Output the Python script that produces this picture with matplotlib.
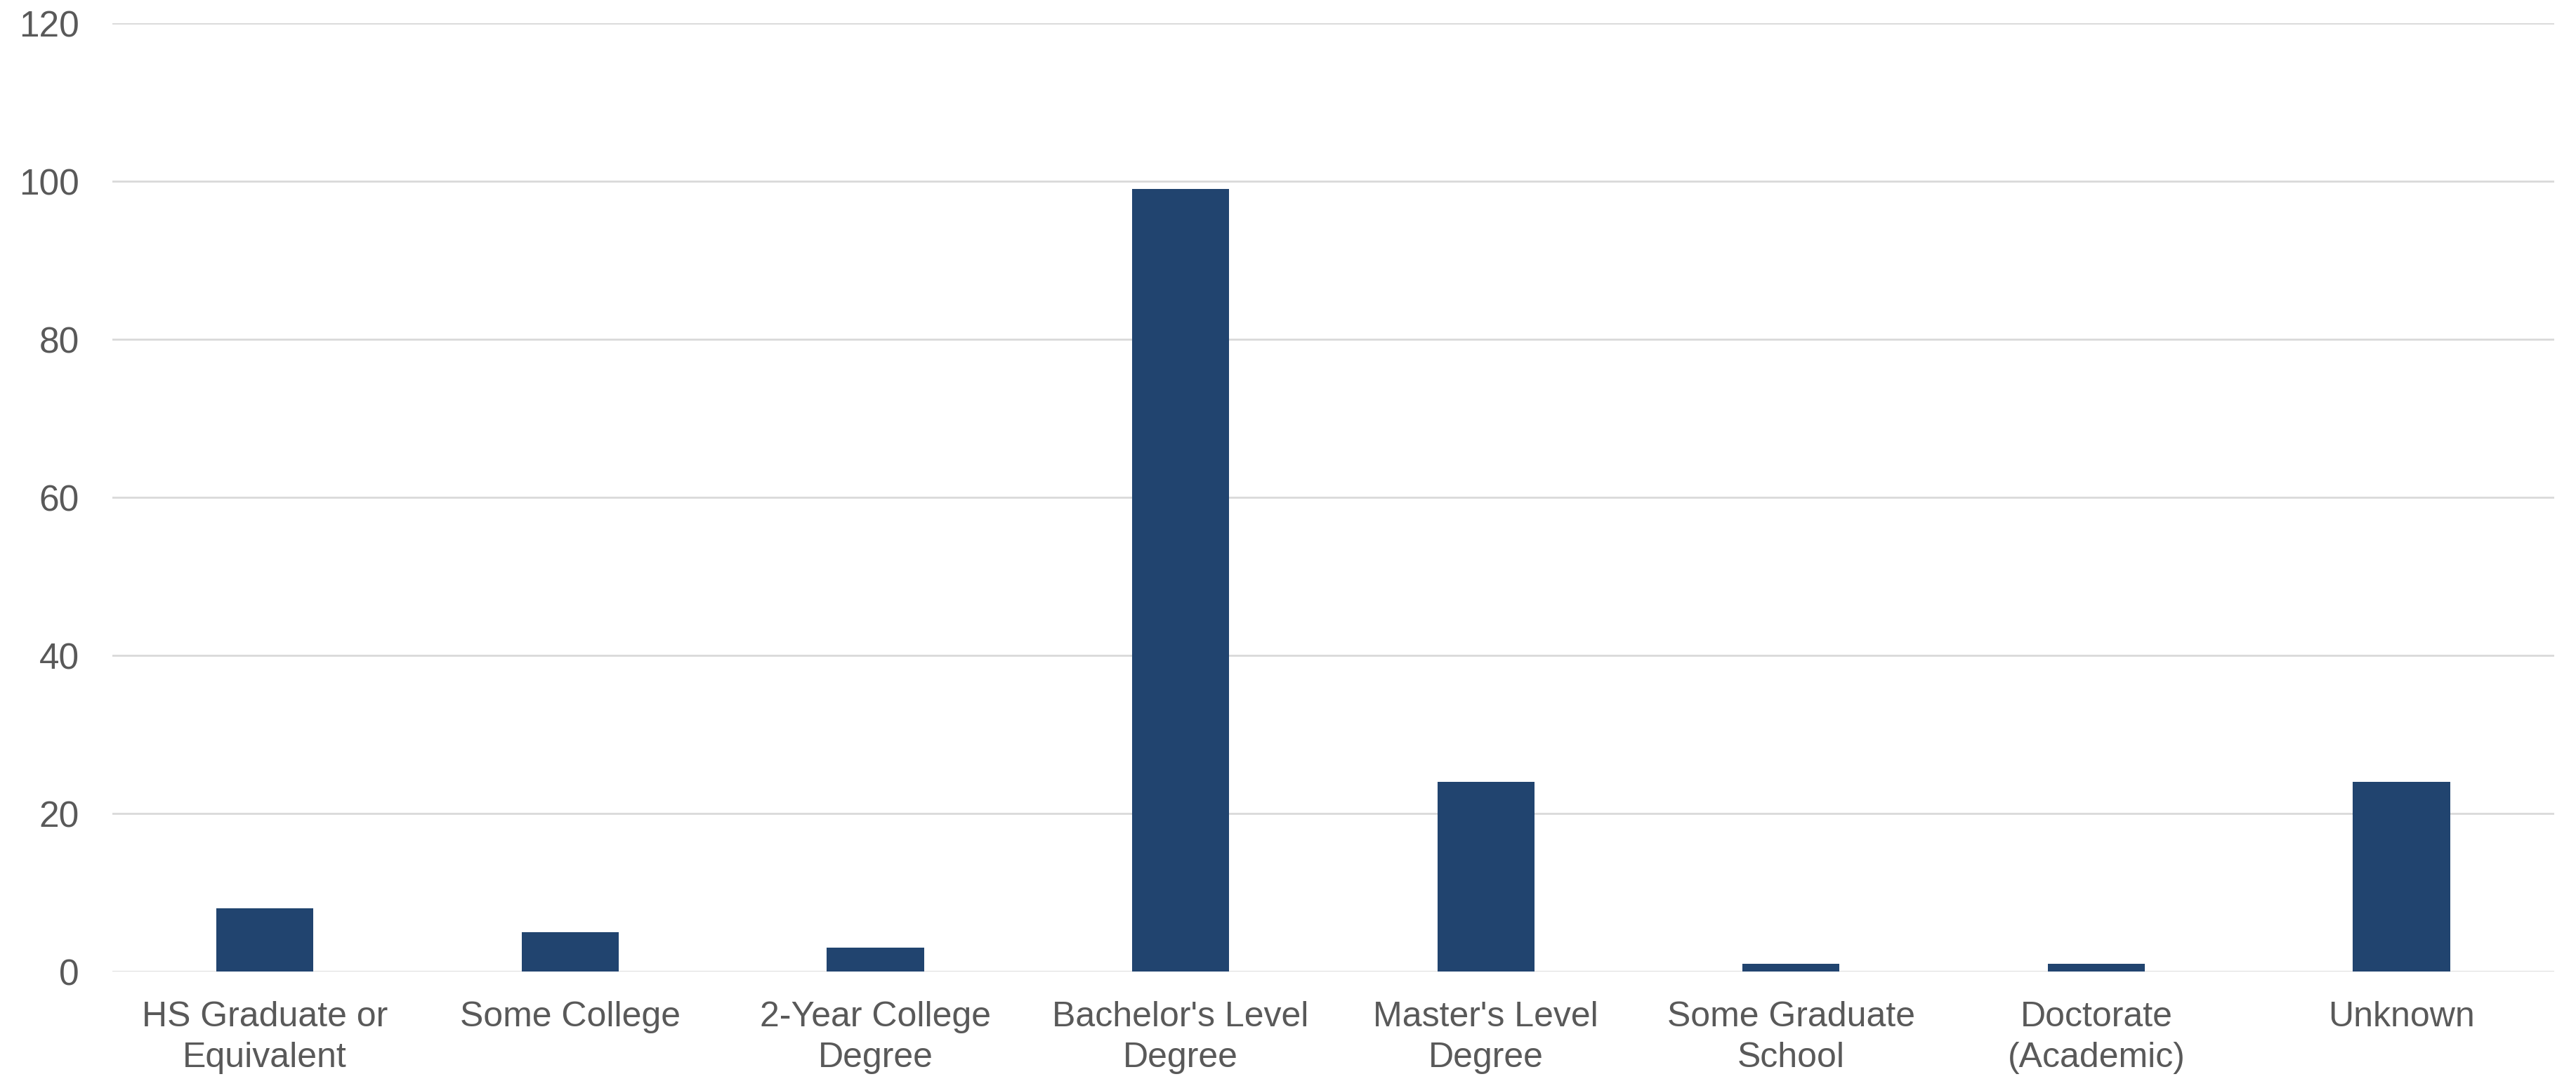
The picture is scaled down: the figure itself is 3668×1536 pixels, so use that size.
import matplotlib
matplotlib.use("Agg")
import matplotlib.pyplot as plt
import numpy as np

categories = ["HS Graduate or\nEquivalent", "Some College", "2-Year College\nDegree",
              "Bachelor's Level\nDegree", "Master's Level\nDegree", "Some Graduate\nSchool",
              "Doctorate\n(Academic)", "Unknown"]
counts = [8, 5, 3, 99, 24, 1, 1, 24]
y_ticks = [0, 20, 40, 60, 80, 100, 120]

BAR = "#21446F"
TXT = "#595959"
GRID = "#D9D9D9"

plt.rcParams["font.family"] = ["Liberation Sans Narrow", "Liberation Sans", "DejaVu Sans"]

fig = plt.figure(figsize=(18.34, 7.68), dpi=200)
ax = fig.add_axes([0.0436, 0.0996, 0.9479, 0.8789])

x = np.arange(len(categories))
ax.bar(x, counts, width=0.318, color=BAR, zorder=3)

ax.set_xlim(-0.5, len(categories) - 0.5)
ax.set_ylim(0, 120)
ax.set_yticks(y_ticks)
ax.set_xticks(x)
ax.set_xticklabels(categories, fontsize=18, color=TXT, linespacing=1.33)
for lbl in ax.get_yticklabels():
    lbl.set_fontfamily(["Liberation Sans", "DejaVu Sans"])
ax.tick_params(axis="y", labelsize=18.5, labelcolor=TXT, length=0, pad=17)
ax.tick_params(axis="x", length=0, pad=15)
ax.grid(axis="y", color=GRID, linewidth=1.0, zorder=0)
for s in ax.spines.values():
    s.set_visible(False)

fig.savefig("out.png", dpi=200, facecolor="white")
